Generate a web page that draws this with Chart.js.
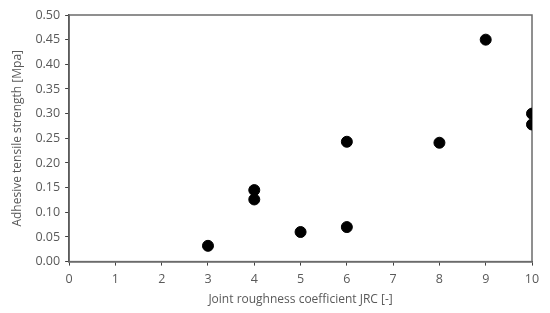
<!DOCTYPE html>
<html>
<head>
<meta charset="utf-8">
<script src="https://cdn.jsdelivr.net/npm/chart.js@4"></script>
<style>
  html, body { margin: 0; padding: 0; background: #fff; }
  #wrap { width: 550px; height: 313px; }
</style>
</head>
<body>
<div id="wrap"><canvas id="c"></canvas></div>
<script>
const jrc = [3, 4, 4, 5, 6, 6, 8, 9, 10, 10];
const strength = [0.032, 0.145, 0.126, 0.060, 0.243, 0.070, 0.241, 0.450, 0.300, 0.278];
const xTitle = 'Joint roughness coefficient JRC [-]';
const yTitle = 'Adhesive tensile strength [Mpa]';

const ink = '#595959';

// box around the plot area
const frame = {
  id: 'frame',
  beforeDatasetsDraw(chart) {
    const a = chart.chartArea, ctx = chart.ctx;
    ctx.save();
    ctx.strokeStyle = '#6b6b6b';
    ctx.lineWidth = 1.5;
    ctx.strokeRect(a.left, a.top, a.right - a.left, a.bottom - a.top);
    ctx.restore();
  }
};

new Chart(document.getElementById('c'), {
  type: 'scatter',
  data: {
    datasets: [{
      data: jrc.map((x, i) => ({ x: x, y: strength[i] })),
      backgroundColor: '#000',
      borderColor: '#000',
      pointRadius: 5.5,
      pointHoverRadius: 5.5
    }]
  },
  options: {
    responsive: true,
    maintainAspectRatio: false,
    animation: false,
    layout: { padding: { top: 15, right: 18, left: 6, bottom: 6 } },
    plugins: { legend: { display: false }, tooltip: { enabled: false } },
    scales: {
      x: {
        min: 0, max: 10,
        ticks: { stepSize: 1, color: ink, font: { family: 'Open Sans', size: 12.5 }, padding: 6 },
        grid: { drawOnChartArea: false, drawTicks: true, tickLength: 4, color: '#404040' },
        border: { color: '#404040', width: 1.5 },
        title: { display: true, text: xTitle, color: ink, font: { family: 'Open Sans', size: 12 }, padding: { top: 0, bottom: 0 } }
      },
      y: {
        min: 0, max: 0.5,
        ticks: { stepSize: 0.05, color: ink, font: { family: 'Open Sans', size: 12.5 }, padding: 5,
                 callback: v => v.toFixed(2) },
        grid: { drawOnChartArea: false, drawTicks: true, tickLength: 4, color: '#404040' },
        border: { color: '#404040', width: 1.5 },
        title: { display: true, text: yTitle, color: ink, font: { family: 'Open Sans', size: 12 }, padding: { bottom: 6 } }
      }
    }
  },
  plugins: [frame]
});
</script>
</body>
</html>
